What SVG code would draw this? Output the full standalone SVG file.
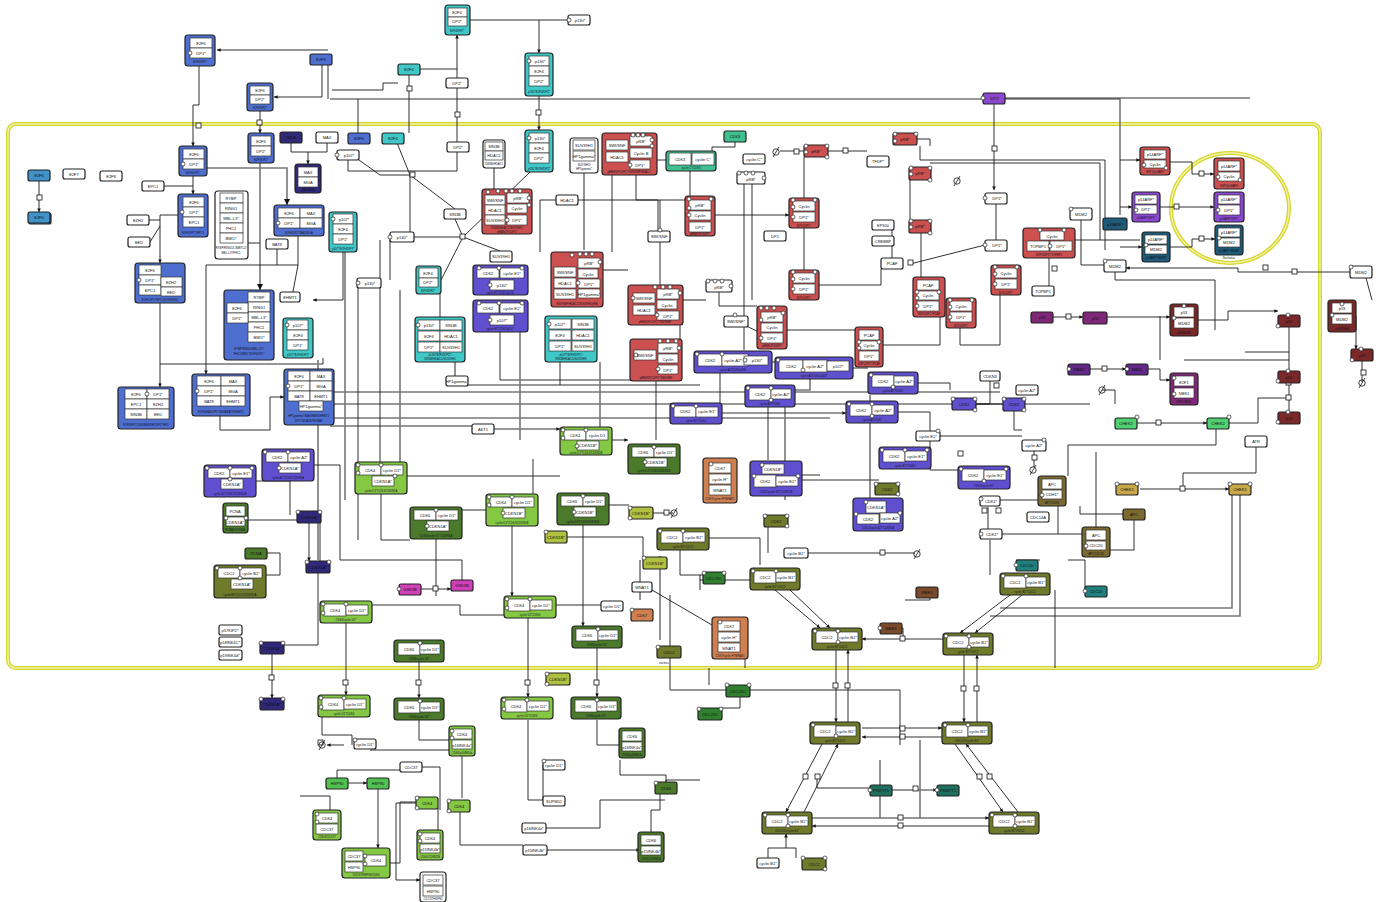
<svg xmlns="http://www.w3.org/2000/svg" width="1383" height="902" viewBox="0 0 1383 902">
<defs>
<style>
.n{stroke:#222;stroke-width:1.2}
.i{fill:#fff;stroke:#333;stroke-width:.7}
.w{fill:#fff}
text{font-family:"Liberation Sans",Arial,sans-serif;font-size:4px;text-anchor:middle;fill:#111}
.cl{font-size:2.8px;fill:#112}
.s{fill:#fff;stroke:#222;stroke-width:.7}
.e{fill:none;stroke:#1a1a1a;stroke-width:.9}
.g{fill:none;stroke:#777;stroke-width:1.6}
.bl{fill:#4f6fd0}.sb{fill:#4092c8}.cy{fill:#40c8c8}.rd{fill:#cc5050}.pb{fill:#6050d0}
.lg{fill:#84c844}.dg{fill:#4a7a2a}.ol{fill:#6f7a2a}.or{fill:#d08050}.nv{fill:#302878}
.mr{fill:#7a2828}.pu{fill:#8a48d0}.tl{fill:#1f5a78}.mg{fill:#d040b8}.c2{fill:#50d070}
.c1{fill:#c8a848}.br{fill:#7a6a30}.gr{fill:#40c090}.yg{fill:#b0c040}.wb{fill:#7a4a2a}
.cd{fill:#308030}.cc{fill:#208080}.pk{fill:#207060}.dp{fill:#602888}.p5{fill:#802878}.hg{fill:#50c050}
.comp{fill:none;stroke:#d6d628;stroke-width:4}
.comp2{fill:none;stroke:#f2f2b0;stroke-width:1.4}
</style>
<marker id="a" viewBox="0 0 6 6" refX="6" refY="3" markerWidth="4" markerHeight="4" orient="auto"><path d="M0,0L6,3L0,6z" fill="#111"/></marker>
</defs>
<rect width="1383" height="902" fill="#fff"/>
<g id="compartment">
<rect class="comp" x="8" y="124" width="1312" height="544" rx="8"/>
<rect class="comp2" x="8" y="124" width="1312" height="544" rx="8"/>
<ellipse class="comp" cx="1230" cy="208" rx="59" ry="55"/>
<ellipse class="comp2" cx="1230" cy="208" rx="59" ry="55"/>
<text class="cl" x="664" y="664">nucleus</text>
<text class="cl" x="1229" y="259">Nucleolus</text>
</g>
<g id="connectors">
<path class="g" d="M330,99H1120V215"/>
<path class="e" d="M199,66V105H193V146" marker-end="url(#a)"/>
<path class="e" d="M328,50H217" marker-end="url(#a)"/>
<path class="e" d="M322,65V97H274" marker-end="url(#a)"/>
<path class="e" d="M328,65V99"/>
<path class="e" d="M260,111V133" marker-end="url(#a)"/>
<path class="e" d="M457,78V35" marker-end="url(#a)"/>
<path class="e" d="M420,69H457"/>
<path class="e" d="M470,20H568"/>
<path class="e" d="M539,20V53" marker-end="url(#a)"/>
<path class="e" d="M539,96V130" marker-end="url(#a)"/>
<path class="e" d="M409,133V75"/>
<path class="e" d="M393,133L410,175"/>
<path class="e" d="M332,90H383V83H398"/>
<path class="e" d="M457,142V88"/>
<path class="e" d="M358,133V99"/>
<path class="e" d="M348,160V171H457V152"/>
<path class="e" d="M994,104V190" marker-end="url(#a)"/>
<path class="e" d="M1005,98H1250"/>
<path class="e" d="M39,181V212" marker-end="url(#a)"/>
<path class="e" d="M164,186H193"/>
<path class="e" d="M193,176V194" marker-end="url(#a)"/>
<path class="e" d="M149,220H160"/>
<path class="e" d="M150,242L160,226"/>
<path class="e" d="M178,215H160V263" marker-end="url(#a)"/>
<path class="g" d="M207,168H287V205" marker-end="url(#a)"/>
<path class="e" d="M291,143V152H327V143"/>
<path class="e" d="M308,152V164" marker-end="url(#a)"/>
<path class="g" d="M260,163V290" marker-end="url(#a)"/>
<path class="e" d="M248,243H260"/>
<path class="e" d="M277,249V265"/>
<path class="e" d="M206,265H298V236"/>
<path class="e" d="M291,302L298,265"/>
<path class="e" d="M206,265V374" marker-end="url(#a)"/>
<path class="e" d="M160,303V387" marker-end="url(#a)"/>
<path class="e" d="M160,364H323V358"/>
<path class="e" d="M220,416V430H270V397H284" marker-end="url(#a)"/>
<path class="e" d="M343,252V300H313" marker-end="url(#a)"/>
<path class="e" d="M359,160L380,175H410V232"/>
<path class="e" d="M410,175L455,209"/>
<path class="e" d="M455,219L463,237L390,237"/>
<path class="e" d="M463,237L500,251"/>
<path class="e" d="M463,237L530,172"/>
<path class="e" d="M463,237L441,280"/>
<path class="e" d="M390,240V280"/>
<path class="g" d="M494,168V189"/>
<path class="g" d="M584,173V250"/>
<path class="e" d="M556,200H540V252"/>
<path class="e" d="M578,200H660V290"/>
<path class="e" d="M612,175V252"/>
<path class="e" d="M636,175V200H658V232"/>
<path class="e" d="M660,200H685"/>
<path class="e" d="M657,160H690V196"/>
<path class="e" d="M715,215H789" marker-end="url(#a)"/>
<path class="e" d="M804,198V157"/>
<path class="e" d="M828,151H867"/>
<path class="e" d="M804,228V270"/>
<path class="e" d="M819,285H881V269"/>
<path class="e" d="M892,258V228H872"/>
<path class="e" d="M910,180V220"/>
<path class="e" d="M920,146V160H1105V250"/>
<path class="e" d="M917,139H930V146"/>
<path class="e" d="M930,163H1100V240"/>
<path class="e" d="M996,204V240"/>
<path class="e" d="M921,233V277"/>
<path class="e" d="M910,264L985,245"/>
<path class="e" d="M809,151H780"/>
<path class="e" d="M735,141V147H712V160"/>
<path class="e" d="M752,183V300"/>
<path class="e" d="M744,183V350"/>
<path class="g" d="M603,270H628"/>
<path class="g" d="M683,300H706"/>
<path class="e" d="M719,292V306H757"/>
<path class="e" d="M736,321L765,335"/>
<path class="e" d="M787,330H855"/>
<path class="e" d="M883,345H940V317"/>
<path class="e" d="M960,328V345H1000V295"/>
<path class="e" d="M1049,258V286"/>
<path class="e" d="M1075,240H1140"/>
<path class="e" d="M1120,160H1140" marker-end="url(#a)"/>
<path class="e" d="M1120,207H1132" marker-end="url(#a)"/>
<path class="e" d="M1120,247H1142" marker-end="url(#a)"/>
<path class="e" d="M1170,162H1192V174H1214" marker-end="url(#a)"/>
<path class="e" d="M1160,207H1214" marker-end="url(#a)"/>
<path class="e" d="M1170,247H1192V239H1215" marker-end="url(#a)"/>
<path class="e" d="M1081,220V265H1104"/>
<path class="e" d="M1350,272H1238V268H1126" marker-end="url(#a)"/>
<path class="e" d="M1115,272V280H1215V330"/>
<path class="e" d="M1366,278L1372,300"/>
<path class="g" d="M290,392H1000"/>
<path class="e" d="M325,404H1090"/>
<path class="g" d="M300,418H830"/>
<path class="e" d="M330,426H472"/>
<path class="e" d="M494,429H560" marker-end="url(#a)"/>
<path class="g" d="M345,250V500"/>
<path class="e" d="M358,283V540"/>
<path class="g" d="M318,360V560"/>
<path class="e" d="M380,240V465"/>
<path class="g" d="M400,290V470"/>
<path class="e" d="M440,294V340"/>
<path class="g" d="M455,360V385H700"/>
<path class="e" d="M500,332V380H680"/>
<path class="g" d="M520,332V440"/>
<path class="e" d="M560,362V385"/>
<path class="g" d="M600,362V445"/>
<path class="e" d="M656,381V440"/>
<path class="g" d="M680,325V350"/>
<path class="e" d="M720,373V403"/>
<path class="e" d="M772,362H775"/>
<path class="g" d="M810,379V390H795"/>
<path class="e" d="M853,368H868"/>
<path class="e" d="M918,383H950V390"/>
<path class="e" d="M768,407V460"/>
<path class="g" d="M785,407V500"/>
<path class="e" d="M722,413H846" marker-end="url(#a)"/>
<path class="e" d="M898,412H930V470H958"/>
<path class="e" d="M990,381V404H976"/>
<path class="e" d="M976,404H1003"/>
<path class="e" d="M1014,411V430H1022"/>
<path class="e" d="M940,436H1022"/>
<path class="e" d="M1034,451V467"/>
<path class="e" d="M905,458H879"/>
<path class="g" d="M870,395V505"/>
<path class="e" d="M820,475H750"/>
<path class="e" d="M802,480H879"/>
<path class="e" d="M880,520H903"/>
<path class="e" d="M988,507V529"/>
<path class="e" d="M1000,500H1038"/>
<path class="e" d="M1002,534H1082"/>
<path class="e" d="M990,540V575"/>
<path class="g" d="M700,590V575"/>
<path class="e" d="M1053,317H1083" marker-end="url(#a)"/>
<path class="e" d="M1107,317H1170" marker-end="url(#a)"/>
<path class="e" d="M1090,369H1126" marker-end="url(#a)"/>
<path class="e" d="M1148,369H1160V380H1170" marker-end="url(#a)"/>
<path class="e" d="M1160,360V316"/>
<path class="e" d="M1115,404V390H1102"/>
<path class="e" d="M1137,423H1207" marker-end="url(#a)"/>
<path class="e" d="M1229,423H1258V398H1289"/>
<path class="e" d="M1198,320H1228V311H1278" marker-end="url(#a)"/>
<path class="e" d="M1289,327V412"/>
<path class="e" d="M1184,360H1289"/>
<path class="e" d="M1245,352H1289"/>
<path class="e" d="M1356,316V349" marker-end="url(#a)"/>
<path class="e" d="M1362,361V382"/>
<path class="e" d="M1140,489H1229" marker-end="url(#a)"/>
<path class="e" d="M1256,447V473H1183V489"/>
<path class="e" d="M1216,429V445H1068V476"/>
<path class="e" d="M1134,520V550H1096V557"/>
<path class="e" d="M1123,514H1080V506"/>
<path class="e" d="M1096,527V452"/>
<path class="e" d="M1058,506V534"/>
<path class="e" d="M1068,560H1085V591"/>
<path class="g" d="M1232,495V608H1000"/>
<path class="g" d="M1240,495V616H990"/>
<path class="e" d="M1040,560H1016"/>
<path class="e" d="M1055,590V668"/>
<path class="e" d="M407,476H560"/>
<path class="e" d="M612,440H628" marker-end="url(#a)"/>
<path class="e" d="M533,459V512H486"/>
<path class="e" d="M381,494V540H410"/>
<path class="e" d="M462,510H486"/>
<path class="e" d="M436,539V596"/>
<path class="e" d="M512,526V596" marker-end="url(#a)"/>
<path class="e" d="M583,525V626" marker-end="url(#a)"/>
<path class="e" d="M609,505H629"/>
<path class="e" d="M653,513H673"/>
<path class="e" d="M567,537H643V557"/>
<path class="e" d="M314,465H340V560"/>
<path class="e" d="M256,481H290V515"/>
<path class="e" d="M248,520H320V570"/>
<path class="e" d="M267,553H280V575H266"/>
<path class="e" d="M309,523V561" marker-end="url(#a)"/>
<path class="e" d="M318,567V645H284"/>
<path class="e" d="M272,654V698" marker-end="url(#a)"/>
<path class="e" d="M421,589H451" marker-end="url(#a)"/>
<path class="e" d="M462,580V560H340"/>
<path class="e" d="M346,623V695" marker-end="url(#a)"/>
<path class="e" d="M419,662V698" marker-end="url(#a)"/>
<path class="e" d="M528,618V697" marker-end="url(#a)"/>
<path class="e" d="M597,648V697" marker-end="url(#a)"/>
<path class="e" d="M372,605H460V615H504"/>
<path class="e" d="M556,605H601"/>
<path class="g" d="M640,560V600"/>
<path class="g" d="M660,556V640"/>
<path class="e" d="M709,538H760V565"/>
<path class="e" d="M680,550V575H703"/>
<path class="e" d="M652,590L712,625"/>
<path class="e" d="M670,595V690H726"/>
<path class="e" d="M750,580H700"/>
<path class="e" d="M808,553H915"/>
<path class="e" d="M768,527V553"/>
<path class="e" d="M750,690H900V745"/>
<path class="e" d="M740,696V708H722"/>
<path class="e" d="M709,685V668"/>
<path class="e" d="M745,640V668"/>
<path class="e" d="M775,590L820,628" marker-end="url(#a)"/>
<path class="e" d="M790,590L830,628" marker-end="url(#a)"/>
<path class="e" d="M1010,595L960,633" marker-end="url(#a)"/>
<path class="e" d="M1022,595L975,633" marker-end="url(#a)"/>
<path class="e" d="M943,639H862" marker-end="url(#a)"/>
<path class="e" d="M903,639V628H902"/>
<path class="e" d="M905,600H930V587"/>
<path class="e" d="M836,650V722" marker-end="url(#a)"/>
<path class="e" d="M848,722V650" marker-end="url(#a)"/>
<path class="e" d="M964,655V722" marker-end="url(#a)"/>
<path class="e" d="M977,722V655" marker-end="url(#a)"/>
<path class="e" d="M862,728H942" marker-end="url(#a)"/>
<path class="e" d="M942,737H862" marker-end="url(#a)"/>
<path class="e" d="M822,744L786,812" marker-end="url(#a)"/>
<path class="e" d="M804,812L838,744" marker-end="url(#a)"/>
<path class="e" d="M955,744L1003,812" marker-end="url(#a)"/>
<path class="e" d="M1018,812L966,744" marker-end="url(#a)"/>
<path class="e" d="M812,818H989" marker-end="url(#a)"/>
<path class="e" d="M989,826H812" marker-end="url(#a)"/>
<path class="e" d="M870,788H817V777"/>
<path class="e" d="M892,790H937" marker-end="url(#a)"/>
<path class="g" d="M880,760V818"/>
<path class="g" d="M920,740V818"/>
<path class="e" d="M768,858V848H796V858"/>
<path class="e" d="M786,848V834" marker-end="url(#a)"/>
<path class="e" d="M322,717V735H352V745"/>
<path class="e" d="M344,745H327" marker-end="url(#a)"/>
<path class="e" d="M370,750H450V742"/>
<path class="e" d="M419,720V740H450"/>
<path class="e" d="M462,756V798"/>
<path class="e" d="M528,720V800H543"/>
<path class="e" d="M543,765V800"/>
<path class="e" d="M597,720V745H620"/>
<path class="e" d="M620,760V775H666V782"/>
<path class="e" d="M422,767H440V810"/>
<path class="e" d="M337,778V770H400"/>
<path class="e" d="M348,783H367" marker-end="url(#a)"/>
<path class="e" d="M378,789V848" marker-end="url(#a)"/>
<path class="e" d="M390,863H400V802H416"/>
<path class="e" d="M416,803H396V880H420" marker-end="url(#a)"/>
<path class="e" d="M438,808V830"/>
<path class="e" d="M460,812V845H523"/>
<path class="e" d="M546,850H640" marker-end="url(#a)"/>
<path class="e" d="M546,828H600V800H665"/>
<path class="e" d="M666,794V780H700"/>
<path class="e" d="M651,832V810H660V794"/>
<path class="e" d="M330,810V796H300"/>
</g>
<g id="process-nodes" fill="#fff" stroke="#111" stroke-width=".8">
<rect x="196" y="123" width="5" height="5"/><rect x="257" y="120" width="5" height="5"/><rect x="536" y="110" width="5" height="5"/><rect x="455" y="112" width="5" height="5"/><rect x="407" y="86" width="5" height="5"/><rect x="37" y="195" width="5" height="5"/><rect x="992" y="146" width="5" height="5"/><rect x="1199" y="171" width="5" height="5"/><rect x="1174" y="204" width="5" height="5"/><rect x="1199" y="236" width="5" height="5"/><rect x="1292" y="269" width="5" height="5"/><rect x="1066" y="314" width="5" height="5"/><rect x="1102" y="366" width="5" height="5"/><rect x="1156" y="420" width="5" height="5"/><rect x="1180" y="486" width="5" height="5"/><rect x="843" y="148" width="5" height="5"/><rect x="794" y="149" width="5" height="5"/><rect x="908" y="260" width="5" height="5"/><rect x="433" y="586" width="5" height="5"/><rect x="416" y="680" width="5" height="5"/><rect x="343" y="680" width="5" height="5"/><rect x="525" y="680" width="5" height="5"/><rect x="594" y="680" width="5" height="5"/><rect x="269" y="675" width="5" height="5"/><rect x="833" y="683" width="5" height="5"/><rect x="845" y="683" width="5" height="5"/><rect x="961" y="686" width="5" height="5"/><rect x="974" y="686" width="5" height="5"/><rect x="900" y="636" width="5" height="5"/><rect x="900" y="726" width="5" height="5"/><rect x="900" y="734" width="5" height="5"/><rect x="803" y="774" width="5" height="5"/><rect x="815" y="774" width="5" height="5"/><rect x="977" y="774" width="5" height="5"/><rect x="987" y="774" width="5" height="5"/><rect x="898" y="815" width="5" height="5"/><rect x="898" y="823" width="5" height="5"/><rect x="913" y="786" width="5" height="5"/><rect x="531" y="510" width="5" height="5"/><rect x="318" y="740" width="5" height="5"/><rect x="664" y="510" width="5" height="5"/><rect x="1052" y="266" width="5" height="5"/><rect x="1361" y="370" width="5" height="5"/><rect x="1263" y="265" width="5" height="5"/><rect x="1286" y="380" width="5" height="5"/><rect x="1286" y="395" width="5" height="5"/><rect x="958" y="451" width="5" height="5"/><rect x="1032" y="455" width="5" height="5"/><rect x="994" y="383" width="5" height="5"/><rect x="958" y="402" width="5" height="5"/><rect x="982" y="508" width="5" height="5"/><rect x="996" y="508" width="5" height="5"/><rect x="880" y="550" width="5" height="5"/><rect x="410" y="172" width="5" height="5"/><rect x="460" y="234" width="5" height="5"/>
</g>
<g id="emptysets" fill="none" stroke="#111" stroke-width=".8">
<circle cx="776" cy="152" r="3.2"/><path d="M773,157L779,147"/>
<circle cx="957" cy="181" r="3.2"/><path d="M954,186L960,176"/>
<circle cx="1102" cy="390" r="3.2"/><path d="M1099,395L1105,385"/>
<circle cx="1362" cy="383" r="3.2"/><path d="M1359,388L1365,378"/>
<circle cx="1033" cy="470" r="3.2"/><path d="M1030,475L1036,465"/>
<circle cx="917" cy="554" r="3.2"/><path d="M914,559L920,549"/>
<circle cx="674" cy="513" r="3.2"/><path d="M671,518L677,508"/>
<circle cx="322" cy="745" r="3.2"/><path d="M319,750L325,740"/>
</g>
<g id="n1"><rect class="n bl" x="185" y="35" width="30" height="31" rx="3"/><rect class="i" x="190" y="38" width="22" height="10"/><rect class="i" x="190" y="48" width="22" height="10"/><circle class="s" cx="190" cy="53" r="2"/><text x="201" y="45">E2F6</text><text x="201" y="55">DP1*</text><text class="cl" x="200" y="63">E2F6/DP1*</text></g>
<g id="n2"><rect class="n bl" x="310" y="54" width="22" height="11" rx="2"/><text x="321" y="61">E2F6</text></g>
<g id="n3"><rect class="n bl" x="247" y="83" width="26" height="28" rx="3"/><rect class="i" x="250" y="86" width="20" height="9"/><rect class="i" x="250" y="95" width="20" height="9"/><text x="260" y="92">E2F6</text><text x="260" y="101">DP2*</text><text class="cl" x="260" y="109">E2F6/DP2*</text></g>
<g id="n4"><rect class="n cy" x="398" y="64" width="22" height="11" rx="2"/><text x="409" y="71">E2F4</text></g>
<g id="n5"><rect class="n cy" x="445" y="5" width="25" height="30" rx="3"/><rect class="i" x="448" y="8" width="19" height="9"/><rect class="i" x="448" y="17" width="19" height="9"/><text x="457" y="14">E2F4</text><text x="457" y="23">DP2*</text><text class="cl" x="457" y="32">E2F4/DP2*</text></g>
<g id="n6"><rect class="n w" x="568" y="15" width="22" height="10" rx="2"/><circle class="s" cx="569" cy="20" r="2"/><text x="580" y="22">p130*</text></g>
<g id="n7"><rect class="n cy" x="525" y="53" width="28" height="43" rx="3"/><rect class="i" x="529" y="56" width="20" height="10"/><rect class="i" x="529" y="66" width="20" height="10"/><rect class="i" x="529" y="76" width="20" height="10"/><circle class="s" cx="529" cy="61" r="2"/><text x="540" y="63">p130*</text><text x="539" y="73">E2F4</text><text x="539" y="83">DP2*</text><text class="cl" x="539" y="93">p130*/E2F4/DP2*</text></g>
<g id="n8"><rect class="n w" x="446" y="78" width="22" height="10" rx="2"/><text x="457" y="85">DP2*</text></g>
<g id="n9"><rect class="n pu" x="983" y="93" width="22" height="11" rx="2"/><circle class="s" cx="983" cy="98" r="2"/><text x="995" y="100">DP1*</text></g>
<g id="n10"><rect class="n sb" x="28" y="170" width="22" height="11" rx="2"/><text x="39" y="177">E2F6</text></g>
<g id="n11"><rect class="n sb" x="29" y="213" width="22" height="11" rx="2"/><rect class="n sb" x="28" y="212" width="22" height="11" rx="2"/><text x="39" y="219">E2F6</text></g>
<g id="n12"><rect class="n w" x="63" y="169" width="22" height="10" rx="2"/><text x="74" y="176">E2F7</text></g>
<g id="n13"><rect class="n w" x="100" y="171" width="22" height="10" rx="2"/><text x="111" y="178">E2F8</text></g>
<g id="n14"><rect class="n bl" x="179" y="146" width="28" height="30" rx="3"/><rect class="i" x="183" y="149" width="21" height="10"/><rect class="i" x="183" y="159" width="21" height="10"/><circle class="s" cx="183" cy="164" r="2"/><text x="194" y="156">E2F6</text><text x="194" y="166">DP1*</text><text class="cl" x="193" y="174">E2F6/DP1*</text></g>
<g id="n15"><rect class="n bl" x="248" y="133" width="26" height="30" rx="3"/><rect class="i" x="251" y="136" width="20" height="10"/><rect class="i" x="251" y="146" width="20" height="10"/><text x="261" y="143">E2F6</text><text x="261" y="153">DP2*</text><text class="cl" x="261" y="161">E2F6/DP2*</text></g>
<g id="n16"><rect class="n nv" x="280" y="132" width="22" height="11" rx="2"/><text x="291" y="139" fill="#ccd">MGA</text></g>
<g id="n17"><rect class="n w" x="316" y="132" width="22" height="11" rx="2"/><text x="327" y="139">MAX</text></g>
<g id="n18"><rect class="n nv" x="295" y="164" width="26" height="29" rx="3"/><rect class="i" x="298" y="167" width="20" height="10"/><rect class="i" x="298" y="177" width="20" height="10"/><text x="308" y="174">MAX</text><text x="308" y="184">MGA</text><text class="cl" x="308" y="191" fill="#ccd">MAX/MGA</text></g>
<g id="n19"><rect class="n w" x="142" y="181" width="22" height="10" rx="2"/><text x="153" y="188">EPC1</text></g>
<g id="n20"><rect class="n bl" x="178" y="194" width="30" height="43" rx="3"/><rect class="i" x="183" y="197" width="21" height="10"/><rect class="i" x="183" y="207" width="21" height="10"/><rect class="i" x="183" y="217" width="21" height="10"/><circle class="s" cx="182" cy="212" r="2"/><text x="194" y="204">E2F6</text><text x="194" y="214">DP1*</text><text x="194" y="224">EPC1</text><text class="cl" x="193" y="234">E2F6/DP1*/EPC1</text></g>
<g id="n21"><rect class="n w" x="127" y="215" width="22" height="10" rx="2"/><text x="138" y="222">EZH2</text></g>
<g id="n22"><rect class="n w" x="128" y="237" width="22" height="10" rx="2"/><text x="139" y="244">EED</text></g>
<g id="n23"><rect class="n w" x="215" y="191" width="33" height="68" rx="3"/><rect class="i" x="220" y="193" width="23" height="10"/><rect class="i" x="220" y="203" width="23" height="10"/><rect class="i" x="220" y="213" width="23" height="10"/><rect class="i" x="220" y="223" width="23" height="10"/><rect class="i" x="220" y="233" width="23" height="10"/><text x="231" y="200">RYBP</text><text x="231" y="210">RING1</text><text x="231" y="220">MBL-L3*</text><text x="231" y="230">PHC1</text><text x="231" y="240">BMI1*</text><text class="cl" x="231" y="249">RYBP/RING1/L3MBTL2/</text><text class="cl" x="231" y="254">MBL-L3*/PHC1</text></g>
<g id="n24"><rect class="n w" x="266" y="239" width="22" height="10" rx="2"/><text x="277" y="246">BAT8</text></g>
<g id="n25"><rect class="n bl" x="274" y="205" width="50" height="31" rx="3"/><rect class="i" x="278" y="208" width="22" height="10"/><rect class="i" x="300" y="208" width="22" height="10"/><rect class="i" x="278" y="218" width="22" height="10"/><rect class="i" x="300" y="218" width="22" height="10"/><circle class="s" cx="278" cy="223" r="2"/><text x="289" y="215">E2F6</text><text x="311" y="215">MAX</text><text x="289" y="225">DP1*</text><text x="311" y="225">MGA</text><text class="cl" x="299" y="234">E2F6/DP1*/MAX/MGA</text></g>
<g id="n26"><rect class="n cy" x="329" y="212" width="28" height="40" rx="3"/><rect class="i" x="333" y="214" width="20" height="10"/><rect class="i" x="333" y="224" width="20" height="10"/><rect class="i" x="333" y="234" width="20" height="10"/><circle class="s" cx="333" cy="219" r="2"/><text x="344" y="221">p107*</text><text x="343" y="231">E2F4</text><text x="343" y="241">DP1*</text><text class="cl" x="343" y="250">p107*/E2F4/DP1*</text></g>
<g id="n27"><rect class="n bl" x="135" y="263" width="50" height="40" rx="3"/><rect class="i" x="139" y="265" width="22" height="10"/><rect class="i" x="139" y="275" width="22" height="10"/><rect class="i" x="139" y="285" width="22" height="10"/><rect class="i" x="161" y="277" width="21" height="10"/><rect class="i" x="161" y="287" width="21" height="9"/><circle class="s" cx="139" cy="280" r="2"/><text x="150" y="272">E2F6</text><text x="150" y="282">DP1*</text><text x="150" y="292">EPC1</text><text x="171" y="284">EZH2</text><text x="171" y="294">EED</text><text class="cl" x="160" y="301">E2F6/DP1*/EPC1/EZH2/EED</text></g>
<g id="n28"><rect class="n bl" x="224" y="290" width="50" height="70" rx="3"/><rect class="i" x="248" y="292" width="22" height="10"/><rect class="i" x="248" y="302" width="22" height="10"/><rect class="i" x="248" y="312" width="22" height="10"/><rect class="i" x="248" y="322" width="22" height="10"/><rect class="i" x="248" y="332" width="22" height="10"/><rect class="i" x="227" y="303" width="21" height="10"/><rect class="i" x="227" y="313" width="21" height="10"/><text x="259" y="299">RYBP</text><text x="259" y="309">RING1</text><text x="259" y="319">MBL-L3*</text><text x="259" y="329">PHC1</text><text x="259" y="339">BMI1*</text><text x="237" y="310">E2F6</text><text x="237" y="320">DP1*</text><text class="cl" x="249" y="350">RYBP/RING1/MBL-L3*/</text><text class="cl" x="249" y="355">PHC1/BMI1*/E2F6/DP1*</text></g>
<g id="n29"><rect class="n w" x="280" y="292" width="20" height="10" rx="2"/><text x="290" y="299">EHMT1</text></g>
<g id="n30"><rect class="n cy" x="283" y="318" width="30" height="40" rx="3"/><rect class="i" x="287" y="320" width="21" height="10"/><rect class="i" x="287" y="330" width="21" height="10"/><rect class="i" x="287" y="340" width="21" height="10"/><circle class="s" cx="287" cy="325" r="2"/><text x="298" y="327">p107*</text><text x="298" y="337">E2F4</text><text x="298" y="347">DP1*</text><text class="cl" x="298" y="356">p107*/E2F4/DP1*</text></g>
<g id="n31"><rect class="n bl" x="118" y="387" width="56" height="42" rx="3"/><rect class="i" x="125" y="389" width="22" height="10"/><rect class="i" x="147" y="389" width="22" height="10"/><rect class="i" x="125" y="399" width="22" height="10"/><rect class="i" x="147" y="399" width="22" height="10"/><rect class="i" x="125" y="409" width="22" height="10"/><rect class="i" x="147" y="409" width="22" height="10"/><circle class="s" cx="147" cy="394" r="2"/><text x="136" y="396">E2F6</text><text x="158" y="396">DP1*</text><text x="136" y="406">EPC1</text><text x="158" y="406">EZH2</text><text x="136" y="416">SIN3B</text><text x="158" y="416">EED</text><text class="cl" x="146" y="426">E2F6/EPC1/SIN3B/EZH2/DP1*/EED</text></g>
<g id="n32"><rect class="n bl" x="192" y="374" width="58" height="42" rx="3"/><rect class="i" x="197" y="376" width="24" height="10"/><rect class="i" x="221" y="376" width="24" height="10"/><rect class="i" x="197" y="386" width="24" height="10"/><rect class="i" x="221" y="386" width="24" height="10"/><rect class="i" x="197" y="396" width="24" height="10"/><rect class="i" x="221" y="396" width="24" height="10"/><circle class="s" cx="197" cy="391" r="2"/><text x="209" y="383">E2F6</text><text x="233" y="383">MAX</text><text x="209" y="393">DP1*</text><text x="233" y="393">MGA</text><text x="209" y="403">BAT8</text><text x="233" y="403">EHMT1</text><text class="cl" x="221" y="413">E2F6/MAX/DP1*/MGA/BAT8/EHMT1</text></g>
<g id="n33"><rect class="n bl" x="284" y="369" width="50" height="56" rx="3"/><rect class="i" x="288" y="371" width="22" height="10"/><rect class="i" x="310" y="371" width="22" height="10"/><rect class="i" x="288" y="381" width="22" height="10"/><rect class="i" x="310" y="381" width="22" height="10"/><rect class="i" x="288" y="391" width="22" height="10"/><rect class="i" x="310" y="391" width="22" height="10"/><rect class="i" x="299" y="401" width="24" height="10"/><circle class="s" cx="288" cy="386" r="2"/><text x="299" y="378">E2F6</text><text x="321" y="378">MAX</text><text x="299" y="388">DP1*</text><text x="321" y="388">MGA</text><text x="299" y="398">BAT8</text><text x="321" y="398">EHMT1</text><text x="311" y="408">HP1gamma*</text><text class="cl" x="309" y="417">HP1gamma*/MAX/BAT8/EHMT1/</text><text class="cl" x="309" y="422">DP1*/MGA/E2F6/MAX</text></g>
<g id="n34"><rect class="n w" x="337" y="150" width="22" height="10" rx="2"/><circle class="s" cx="337" cy="155" r="2"/><text x="349" y="157">p107*</text></g>
<g id="n35"><rect class="n bl" x="348" y="133" width="22" height="11" rx="2"/><text x="359" y="140">E2F6</text></g>
<g id="n36"><rect class="n cy" x="382" y="133" width="22" height="11" rx="2"/><text x="393" y="140">E2F4</text></g>
<g id="n37"><rect class="n w" x="447" y="142" width="22" height="10" rx="2"/><text x="458" y="149">DP2*</text></g>
<g id="n38"><rect class="n w" x="483" y="140" width="22" height="28" rx="3"/><rect class="i" x="485" y="142" width="18" height="9"/><rect class="i" x="485" y="151" width="18" height="9"/><text x="494" y="148">SIN3B</text><text x="494" y="157">HDAC1</text><text class="cl" x="494" y="165">SIN3B/HDAC1</text></g>
<g id="n39"><rect class="n cy" x="525" y="130" width="28" height="42" rx="3"/><rect class="i" x="529" y="133" width="20" height="10"/><rect class="i" x="529" y="143" width="20" height="10"/><rect class="i" x="529" y="153" width="20" height="10"/><circle class="s" cx="529" cy="138" r="2"/><text x="540" y="140">p130*</text><text x="539" y="150">E2F4</text><text x="539" y="160">DP2*</text><text class="cl" x="539" y="170">p130*/E2F4/DP2*</text></g>
<g id="n40"><rect class="n w" x="570" y="138" width="28" height="35" rx="3"/><rect class="i" x="573" y="140" width="22" height="10"/><rect class="i" x="573" y="151" width="22" height="10"/><text x="584" y="147">SUV39H1</text><text x="584" y="158">HP1gamma*</text><text class="cl" x="584" y="166">SUV39H1/</text><text class="cl" x="584" y="170">HP1gamma*</text></g>
<g id="n41"><rect class="n rd" x="602" y="133" width="55" height="42" rx="3"/><rect class="i" x="606" y="140" width="22" height="10"/><rect class="i" x="606" y="152" width="22" height="10"/><rect class="i" x="630" y="136" width="22" height="10"/><rect class="i" x="630" y="148" width="22" height="10"/><rect class="i" x="630" y="160" width="20" height="9"/><circle class="s" cx="633" cy="135" r="2"/><circle class="s" cx="638" cy="135" r="2"/><circle class="s" cx="643" cy="135" r="2"/><circle class="s" cx="652" cy="140" r="2"/><circle class="s" cx="652" cy="146" r="2"/><circle class="s" cx="630" cy="165" r="2"/><text x="617" y="147">SWI/SNF</text><text x="617" y="159">HDAC1</text><text x="641" y="143">pRB*</text><text x="641" y="155">Cyclin B</text><text x="640" y="167">DP1*</text><text class="cl" x="629" y="173">pRB/E2F1/DP1*/SWI/SNF/HDAC1</text></g>
<g id="n42"><rect class="n gr" x="666" y="151" width="50" height="20" rx="3"/><rect class="i" x="669" y="153" width="22" height="12"/><rect class="i" x="692" y="153" width="22" height="12"/><text x="680" y="161">CDK3</text><text x="703" y="161">cyclin C*</text><text class="cl" x="691" y="169">cyclin C*/CDK3</text></g>
<g id="n43"><rect class="n gr" x="724" y="131" width="22" height="11" rx="2"/><text x="735" y="138">CDK3</text></g>
<g id="n44"><rect class="n w" x="743" y="154" width="22" height="10" rx="2"/><text x="754" y="161">cyclin C*</text></g>
<g id="n45"><rect class="n rd" x="804" y="145" width="24" height="12" rx="2"/><circle class="s" cx="806" cy="146" r="2"/><circle class="s" cx="827" cy="146" r="2"/><circle class="s" cx="806" cy="152" r="2"/><circle class="s" cx="827" cy="157" r="2"/><text x="816" y="153">pRB*</text></g>
<g id="n46"><rect class="n rd" x="893" y="133" width="24" height="12" rx="2"/><circle class="s" cx="895" cy="134" r="2"/><circle class="s" cx="916" cy="134" r="2"/><circle class="s" cx="895" cy="141" r="2"/><text x="905" y="141">pRB*</text></g>
<g id="n47"><rect class="n w" x="867" y="156" width="22" height="11" rx="2"/><text x="878" y="163">TFDP*</text></g>
<g id="n48"><rect class="n rd" x="909" y="167" width="22" height="13" rx="2"/><circle class="s" cx="911" cy="168" r="2"/><circle class="s" cx="930" cy="168" r="2"/><circle class="s" cx="911" cy="174" r="2"/><circle class="s" cx="930" cy="180" r="2"/><text x="920" y="175">pRB*</text></g>
<g id="n49"><rect class="n w" x="985" y="193" width="22" height="11" rx="2"/><circle class="s" cx="985" cy="198" r="2"/><text x="997" y="200">DP1*</text></g>
<g id="n50"><rect class="n w" x="985" y="240" width="22" height="11" rx="2"/><circle class="s" cx="985" cy="245" r="2"/><text x="997" y="247">DP1*</text></g>
<g id="n51"><rect class="n rd" x="909" y="220" width="22" height="13" rx="2"/><circle class="s" cx="911" cy="221" r="2"/><circle class="s" cx="930" cy="221" r="2"/><circle class="s" cx="911" cy="227" r="2"/><circle class="s" cx="930" cy="233" r="2"/><text x="920" y="228">pRB*</text></g>
<g id="n52"><rect class="n w" x="444" y="209" width="22" height="10" rx="2"/><text x="455" y="216">SIN3B</text></g>
<g id="n53"><rect class="n w" x="390" y="232" width="24" height="10" rx="2"/><circle class="s" cx="390" cy="237" r="2"/><text x="402" y="239">p130*</text></g>
<g id="n54"><rect class="n rd" x="482" y="189" width="50" height="45" rx="3"/><rect class="i" x="485" y="195" width="20" height="10"/><rect class="i" x="485" y="205" width="20" height="10"/><rect class="i" x="485" y="215" width="20" height="10"/><rect class="i" x="507" y="193" width="22" height="10"/><rect class="i" x="507" y="204" width="20" height="9"/><rect class="i" x="507" y="215" width="20" height="10"/><circle class="s" cx="488" cy="192" r="2"/><circle class="s" cx="498" cy="191" r="2"/><circle class="s" cx="506" cy="191" r="2"/><circle class="s" cx="512" cy="191" r="2"/><circle class="s" cx="520" cy="191" r="2"/><circle class="s" cx="529" cy="198" r="2"/><circle class="s" cx="529" cy="205" r="2"/><circle class="s" cx="507" cy="220" r="2"/><text x="495" y="202">SWI/SNF</text><text x="495" y="212">HDAC1</text><text x="495" y="222">SUV39H1</text><text x="518" y="200">pRB*</text><text x="517" y="210">Cyclin</text><text x="517" y="222">DP1*</text><text class="cl" x="507" y="229">SIN3B/HDAC1/SUV39H1/</text><text class="cl" x="507" y="233">pRB/E2F1/DP1*</text></g>
<g id="n55"><rect class="n w" x="556" y="195" width="22" height="10" rx="2"/><text x="567" y="202">HDAC1</text></g>
<g id="n56"><rect class="n w" x="648" y="231" width="22" height="11" rx="2"/><circle class="s" cx="660" cy="230" r="2"/><text x="659" y="238">SWI/SNF</text></g>
<g id="n57"><rect class="n w" x="490" y="251" width="22" height="11" rx="2"/><text x="501" y="258">SUV39H1</text></g>
<g id="n58"><rect class="n rd" x="685" y="196" width="30" height="40" rx="3"/><rect class="i" x="689" y="200" width="22" height="10"/><rect class="i" x="689" y="211" width="22" height="9"/><rect class="i" x="689" y="222" width="22" height="10"/><circle class="s" cx="689" cy="199" r="2"/><circle class="s" cx="711" cy="199" r="2"/><circle class="s" cx="689" cy="208" r="2"/><circle class="s" cx="689" cy="215" r="2"/><text x="700" y="207">pRB*</text><text x="700" y="217">Cyclin</text><text x="700" y="229">DP1*</text><text class="cl" x="700" y="235">pRB/E2F1/DP1*</text></g>
<g id="n59"><rect class="n rd" x="789" y="198" width="30" height="30" rx="3"/><rect class="i" x="793" y="201" width="22" height="10"/><rect class="i" x="793" y="212" width="22" height="10"/><circle class="s" cx="793" cy="200" r="2"/><circle class="s" cx="815" cy="200" r="2"/><circle class="s" cx="793" cy="207" r="2"/><circle class="s" cx="793" cy="217" r="2"/><text x="804" y="208">Cyclin</text><text x="804" y="219">DP1*</text><text class="cl" x="804" y="227">E2F1/DP1*</text></g>
<g id="n60"><rect class="n w" x="737" y="172" width="28" height="12" rx="2"/><circle class="s" cx="739" cy="173" r="2"/><circle class="s" cx="746" cy="173" r="2"/><circle class="s" cx="753" cy="173" r="2"/><circle class="s" cx="764" cy="178" r="2"/><text x="751" y="181">pRB*</text></g>
<g id="n61"><rect class="n w" x="764" y="231" width="22" height="10" rx="2"/><text x="775" y="238">DP1</text></g>
<g id="n62"><rect class="n w" x="872" y="220" width="22" height="10" rx="2"/><text x="883" y="227">EP300</text></g>
<g id="n63"><rect class="n w" x="872" y="236" width="22" height="10" rx="2"/><text x="883" y="243">CREBBP</text></g>
<g id="n64"><rect class="n w" x="881" y="258" width="22" height="11" rx="2"/><text x="892" y="265">PCAF</text></g>
<g id="n65"><rect class="n pb" x="473" y="265" width="55" height="30" rx="3"/><rect class="i" x="477" y="268" width="22" height="10"/><rect class="i" x="500" y="268" width="24" height="10"/><rect class="i" x="490" y="280" width="24" height="10"/><circle class="s" cx="479" cy="268" r="2"/><circle class="s" cx="499" cy="268" r="2"/><circle class="s" cx="522" cy="268" r="2"/><circle class="s" cx="490" cy="285" r="2"/><text x="488" y="275">CDK2</text><text x="512" y="275">cyclin E1*</text><text x="502" y="287">p130*</text><text class="cl" x="500" y="294">cyclin E1*/CDK2/p130</text></g>
<g id="n66"><rect class="n cy" x="416" y="266" width="25" height="28" rx="3"/><rect class="i" x="419" y="268" width="19" height="10"/><rect class="i" x="419" y="278" width="19" height="9"/><text x="428" y="275">E2F4</text><text x="428" y="284">DP2*</text><text class="cl" x="428" y="292">E2F4/DP2*</text></g>
<g id="n67"><rect class="n w" x="357" y="278" width="24" height="10" rx="2"/><circle class="s" cx="358" cy="283" r="2"/><text x="370" y="285">p130*</text></g>
<g id="n68"><rect class="n rd" x="551" y="252" width="52" height="55" rx="3"/><rect class="i" x="554" y="267" width="22" height="10"/><rect class="i" x="554" y="278" width="22" height="10"/><rect class="i" x="554" y="289" width="22" height="10"/><rect class="i" x="578" y="258" width="22" height="10"/><rect class="i" x="578" y="269" width="20" height="9"/><rect class="i" x="578" y="279" width="22" height="9"/><rect class="i" x="578" y="289" width="22" height="9"/><circle class="s" cx="572" cy="255" r="2"/><circle class="s" cx="580" cy="254" r="2"/><circle class="s" cx="586" cy="254" r="2"/><circle class="s" cx="592" cy="254" r="2"/><circle class="s" cx="600" cy="262" r="2"/><circle class="s" cx="578" cy="283" r="2"/><text x="565" y="274">SWI/SNF</text><text x="565" y="285">HDAC1</text><text x="565" y="296">SUV39H1</text><text x="589" y="265">pRB*</text><text x="588" y="276">Cyclin</text><text x="589" y="286">DP1*</text><text x="589" y="296">HP1gamma*</text><text class="cl" x="577" y="305">SWI/SNF/HDAC1/SUV39H1/pRB</text></g>
<g id="n69"><rect class="n rd" x="628" y="285" width="55" height="40" rx="3"/><rect class="i" x="633" y="293" width="22" height="10"/><rect class="i" x="633" y="305" width="22" height="10"/><rect class="i" x="657" y="289" width="22" height="10"/><rect class="i" x="657" y="300" width="20" height="9"/><rect class="i" x="657" y="311" width="22" height="9"/><circle class="s" cx="655" cy="287" r="2"/><circle class="s" cx="663" cy="287" r="2"/><circle class="s" cx="670" cy="287" r="2"/><circle class="s" cx="680" cy="293" r="2"/><circle class="s" cx="657" cy="315" r="2"/><circle class="s" cx="633" cy="298" r="2"/><text x="644" y="300">SWI/SNF</text><text x="644" y="312">HDAC1</text><text x="668" y="296">pRB*</text><text x="667" y="307">Cyclin</text><text x="668" y="318">DP1*</text><text class="cl" x="655" y="323">pRB/E2F1/DP1*/SWI/SNF</text></g>
<g id="n70"><rect class="n w" x="706" y="280" width="26" height="12" rx="2"/><circle class="s" cx="708" cy="281" r="2"/><circle class="s" cx="715" cy="281" r="2"/><circle class="s" cx="722" cy="281" r="2"/><circle class="s" cx="731" cy="286" r="2"/><text x="719" y="289">pRB*</text></g>
<g id="n71"><rect class="n rd" x="789" y="270" width="30" height="30" rx="3"/><rect class="i" x="793" y="273" width="22" height="10"/><rect class="i" x="793" y="284" width="22" height="10"/><circle class="s" cx="793" cy="272" r="2"/><circle class="s" cx="815" cy="272" r="2"/><circle class="s" cx="793" cy="279" r="2"/><circle class="s" cx="793" cy="289" r="2"/><text x="804" y="280">Cyclin</text><text x="804" y="291">DP1*</text><text class="cl" x="804" y="299">E2F1/DP1*</text></g>
<g id="n72"><rect class="n pb" x="473" y="300" width="55" height="32" rx="3"/><rect class="i" x="477" y="303" width="22" height="10"/><rect class="i" x="500" y="303" width="24" height="10"/><rect class="i" x="490" y="315" width="24" height="10"/><circle class="s" cx="479" cy="303" r="2"/><circle class="s" cx="499" cy="303" r="2"/><circle class="s" cx="522" cy="303" r="2"/><circle class="s" cx="490" cy="320" r="2"/><text x="488" y="310">CDK2</text><text x="512" y="310">cyclin E1*</text><text x="502" y="322">p107*</text><text class="cl" x="500" y="330">cyclin E1*/CDK2/p107</text></g>
<g id="n73"><rect class="n cy" x="415" y="317" width="50" height="45" rx="3"/><rect class="i" x="418" y="320" width="22" height="10"/><rect class="i" x="440" y="320" width="22" height="10"/><rect class="i" x="418" y="331" width="22" height="10"/><rect class="i" x="440" y="331" width="22" height="10"/><rect class="i" x="418" y="342" width="22" height="10"/><rect class="i" x="440" y="342" width="22" height="10"/><circle class="s" cx="418" cy="325" r="2"/><text x="429" y="327">p130*</text><text x="451" y="327">SIN3B</text><text x="429" y="338">E2F4</text><text x="451" y="338">HDAC1</text><text x="429" y="349">DP2*</text><text x="451" y="349">SUV39H1</text><text class="cl" x="440" y="356">p130*/E2F4/DP2*/</text><text class="cl" x="440" y="360">SIN3B/HDAC1/SUV39H1</text></g>
<g id="n74"><rect class="n cy" x="545" y="316" width="52" height="46" rx="3"/><rect class="i" x="549" y="319" width="22" height="10"/><rect class="i" x="572" y="319" width="22" height="10"/><rect class="i" x="549" y="330" width="22" height="10"/><rect class="i" x="572" y="330" width="22" height="10"/><rect class="i" x="549" y="341" width="22" height="10"/><rect class="i" x="572" y="341" width="22" height="10"/><circle class="s" cx="549" cy="324" r="2"/><text x="560" y="326">p107*</text><text x="583" y="326">SIN3B</text><text x="560" y="337">E2F4</text><text x="583" y="337">HDAC1</text><text x="560" y="348">DP1*</text><text x="583" y="348">SUV39H1</text><text class="cl" x="571" y="356">p107*/E2F4/DP1*/</text><text class="cl" x="571" y="360">SIN3B/HDAC1/SUV39H1</text></g>
<g id="n75"><rect class="n rd" x="630" y="339" width="52" height="42" rx="3"/><rect class="i" x="634" y="350" width="22" height="10"/><rect class="i" x="658" y="343" width="20" height="10"/><rect class="i" x="658" y="354" width="20" height="9"/><rect class="i" x="658" y="365" width="20" height="9"/><circle class="s" cx="636" cy="355" r="2"/><circle class="s" cx="660" cy="341" r="2"/><circle class="s" cx="668" cy="341" r="2"/><circle class="s" cx="676" cy="341" r="2"/><circle class="s" cx="679" cy="348" r="2"/><circle class="s" cx="658" cy="369" r="2"/><text x="645" y="357">SWI/SNF</text><text x="668" y="350">pRB*</text><text x="668" y="361">Cyclin</text><text x="668" y="372">DP1*</text><text class="cl" x="656" y="379">pRB/E2F1/DP1*/SWI/SNF</text></g>
<g id="n76"><rect class="n w" x="724" y="316" width="24" height="11" rx="2"/><circle class="s" cx="735" cy="315" r="2"/><text x="736" y="323">SWI/SNF*</text></g>
<g id="n77"><rect class="n rd" x="757" y="306" width="30" height="43" rx="3"/><rect class="i" x="761" y="312" width="22" height="10"/><rect class="i" x="761" y="323" width="22" height="9"/><rect class="i" x="761" y="333" width="22" height="10"/><circle class="s" cx="761" cy="308" r="2"/><circle class="s" cx="767" cy="308" r="2"/><circle class="s" cx="774" cy="308" r="2"/><circle class="s" cx="783" cy="313" r="2"/><circle class="s" cx="761" cy="320" r="2"/><circle class="s" cx="761" cy="338" r="2"/><text x="772" y="319">pRB*</text><text x="772" y="329">Cyclin</text><text x="772" y="340">DP1*</text><text class="cl" x="772" y="347">pRB/E2F1/DP1*</text></g>
<g id="n78"><rect class="n rd" x="855" y="327" width="28" height="40" rx="3"/><rect class="i" x="859" y="330" width="20" height="10"/><rect class="i" x="859" y="341" width="20" height="9"/><rect class="i" x="859" y="351" width="20" height="10"/><circle class="s" cx="859" cy="342" r="2"/><circle class="s" cx="879" cy="342" r="2"/><circle class="s" cx="859" cy="348" r="2"/><text x="869" y="337">PCAF</text><text x="869" y="347">Cyclin</text><text x="869" y="358">DP1*</text><text class="cl" x="869" y="365">E2F1/DP1*/PCAF</text></g>
<g id="n79"><rect class="n rd" x="913" y="277" width="32" height="40" rx="3"/><rect class="i" x="917" y="280" width="22" height="10"/><rect class="i" x="917" y="291" width="22" height="9"/><rect class="i" x="917" y="301" width="22" height="10"/><circle class="s" cx="917" cy="292" r="2"/><circle class="s" cx="939" cy="292" r="2"/><circle class="s" cx="917" cy="298" r="2"/><circle class="s" cx="917" cy="306" r="2"/><text x="928" y="287">PCAF</text><text x="928" y="297">Cyclin</text><text x="928" y="308">DP1*</text><text class="cl" x="929" y="315">E2F1/DP1*/PCAF</text></g>
<g id="n80"><rect class="n rd" x="946" y="298" width="30" height="30" rx="3"/><rect class="i" x="950" y="301" width="22" height="10"/><rect class="i" x="950" y="312" width="22" height="10"/><circle class="s" cx="950" cy="300" r="2"/><circle class="s" cx="972" cy="300" r="2"/><circle class="s" cx="950" cy="307" r="2"/><circle class="s" cx="950" cy="317" r="2"/><text x="961" y="308">Cyclin</text><text x="961" y="319">DP1*</text><text class="cl" x="961" y="327">E2F1/DP1*</text></g>
<g id="n81"><rect class="n rd" x="1023" y="228" width="52" height="30" rx="3"/><rect class="i" x="1027" y="241" width="22" height="10"/><rect class="i" x="1050" y="241" width="22" height="10"/><rect class="i" x="1040" y="231" width="24" height="9"/><circle class="s" cx="1040" cy="230" r="2"/><circle class="s" cx="1064" cy="230" r="2"/><circle class="s" cx="1050" cy="246" r="2"/><text x="1038" y="248">TOPBP1</text><text x="1061" y="248">DP1*</text><text x="1052" y="238">Cyclin</text><text class="cl" x="1049" y="256">E2F1/DP1*/TOPBP1</text></g>
<g id="n82"><rect class="n rd" x="991" y="265" width="30" height="30" rx="3"/><rect class="i" x="995" y="268" width="22" height="10"/><rect class="i" x="995" y="279" width="22" height="10"/><circle class="s" cx="995" cy="267" r="2"/><circle class="s" cx="1017" cy="267" r="2"/><circle class="s" cx="995" cy="274" r="2"/><circle class="s" cx="995" cy="284" r="2"/><text x="1006" y="275">Cyclin</text><text x="1006" y="286">DP1*</text><text class="cl" x="1006" y="294">E2F1/DP1*</text></g>
<g id="n83"><rect class="n w" x="1032" y="286" width="22" height="10" rx="2"/><text x="1043" y="293">TOPBP1</text></g>
<g id="n84"><rect class="n rd" x="1140" y="147" width="30" height="28" rx="3"/><rect class="i" x="1144" y="150" width="22" height="9"/><rect class="i" x="1144" y="160" width="22" height="8"/><circle class="s" cx="1144" cy="165" r="2"/><circle class="s" cx="1166" cy="168" r="2"/><text x="1155" y="156">p14ARF*</text><text x="1155" y="166">Cyclin</text><text class="cl" x="1155" y="173">E2F1/p14ARF</text></g>
<g id="n85"><rect class="n pu" x="1132" y="192" width="28" height="30" rx="3"/><rect class="i" x="1135" y="195" width="22" height="9"/><rect class="i" x="1135" y="205" width="22" height="9"/><circle class="s" cx="1136" cy="210" r="2"/><text x="1146" y="201">p14ARF*</text><text x="1146" y="211">DP1*</text><text class="cl" x="1146" y="219">p14ARF*/DP1*</text></g>
<g id="n86"><rect class="n tl" x="1142" y="232" width="28" height="30" rx="3"/><rect class="i" x="1145" y="235" width="22" height="9"/><rect class="i" x="1145" y="245" width="22" height="9"/><circle class="s" cx="1146" cy="245" r="2"/><text x="1156" y="241">p14ARF*</text><text x="1156" y="251">MDM2</text><text class="cl" x="1156" y="259" fill="#cde">p14ARF*/MDM2</text></g>
<g id="n87"><rect class="n tl" x="1103" y="218" width="24" height="12" rx="2"/><text x="1115" y="226" fill="#dde">p14ARF*</text></g>
<g id="n88"><rect class="n rd" x="1214" y="158" width="30" height="31" rx="3"/><rect class="i" x="1218" y="161" width="22" height="10"/><rect class="i" x="1218" y="172" width="22" height="9"/><circle class="s" cx="1218" cy="177" r="2"/><circle class="s" cx="1240" cy="180" r="2"/><text x="1229" y="168">p14ARF*</text><text x="1229" y="178">Cyclin</text><text class="cl" x="1229" y="187">E2F1/p14ARF</text></g>
<g id="n89"><rect class="n pu" x="1214" y="192" width="30" height="30" rx="3"/><rect class="i" x="1218" y="195" width="22" height="9"/><rect class="i" x="1218" y="205" width="22" height="10"/><circle class="s" cx="1218" cy="210" r="2"/><text x="1229" y="201">p14ARF*</text><text x="1229" y="212">DP1*</text><text class="cl" x="1229" y="220">p14ARF*/DP1*</text></g>
<g id="n90"><rect class="n tl" x="1215" y="225" width="28" height="30" rx="3"/><rect class="i" x="1218" y="228" width="22" height="9"/><rect class="i" x="1218" y="238" width="22" height="9"/><circle class="s" cx="1219" cy="238" r="2"/><text x="1229" y="234">p14ARF*</text><text x="1229" y="244">MDM2</text><text class="cl" x="1229" y="252" fill="#cde">p14ARF*/MDM2</text></g>
<g id="n91"><rect class="n w" x="1070" y="208" width="22" height="12" rx="2"/><circle class="s" cx="1071" cy="209" r="2"/><text x="1081" y="216">MDM2</text></g>
<g id="n92"><rect class="n w" x="1104" y="260" width="22" height="12" rx="2"/><circle class="s" cx="1105" cy="261" r="2"/><text x="1115" y="268">MDM2</text></g>
<g id="n93"><rect class="n w" x="1350" y="266" width="22" height="12" rx="2"/><circle class="s" cx="1351" cy="267" r="2"/><text x="1361" y="274">MDM2</text></g>
<g id="n94"><rect class="n w" x="446" y="376" width="22" height="10" rx="2"/><text x="457" y="383">HP1gamma*</text></g>
<g id="n95"><rect class="n w" x="472" y="424" width="22" height="10" rx="2"/><text x="483" y="431">AKT1</text></g>
<g id="n96"><rect class="n pb" x="694" y="351" width="78" height="22" rx="3"/><rect class="i" x="698" y="354" width="24" height="12"/><rect class="i" x="722" y="354" width="26" height="12"/><rect class="i" x="744" y="356" width="24" height="9"/><circle class="s" cx="697" cy="354" r="2"/><circle class="s" cx="722" cy="354" r="2"/><circle class="s" cx="745" cy="360" r="2"/><text x="710" y="362">CDK2</text><text x="733" y="362">cyclin A2*</text><text x="757" y="362">p130*</text><text class="cl" x="733" y="371">cyclin A2/CDK2/p130</text></g>
<g id="n97"><rect class="n pb" x="775" y="357" width="78" height="22" rx="3"/><rect class="i" x="779" y="360" width="24" height="12"/><rect class="i" x="803" y="360" width="24" height="12"/><rect class="i" x="827" y="361" width="22" height="10"/><circle class="s" cx="778" cy="360" r="2"/><circle class="s" cx="803" cy="370" r="2"/><text x="791" y="368">CDK2</text><text x="815" y="368">cyclin A2*</text><text x="838" y="368">p107*</text><text class="cl" x="814" y="377">cyclin A2/CDK2/p107</text></g>
<g id="n98"><rect class="n pb" x="868" y="372" width="50" height="22" rx="3"/><rect class="i" x="872" y="375" width="22" height="12"/><rect class="i" x="894" y="376" width="20" height="10"/><circle class="s" cx="871" cy="375" r="2"/><circle class="s" cx="893" cy="387" r="2"/><text x="883" y="383">CDK2</text><text x="904" y="383">cyclin A2*</text><text class="cl" x="893" y="392">cyclin A2*/CDK2</text></g>
<g id="n99"><rect class="n pb" x="745" y="385" width="50" height="22" rx="3"/><rect class="i" x="749" y="388" width="22" height="12"/><rect class="i" x="771" y="389" width="20" height="10"/><circle class="s" cx="748" cy="388" r="2"/><circle class="s" cx="771" cy="388" r="2"/><circle class="s" cx="771" cy="400" r="2"/><text x="760" y="396">CDK2</text><text x="781" y="396">cyclin A2*</text><text class="cl" x="770" y="405">cyclin A2*/CDK2</text></g>
<g id="n100"><rect class="n pb" x="670" y="403" width="52" height="21" rx="3"/><rect class="i" x="674" y="406" width="22" height="11"/><rect class="i" x="696" y="407" width="22" height="10"/><circle class="s" cx="673" cy="406" r="2"/><circle class="s" cx="696" cy="406" r="2"/><text x="685" y="413">CDK2</text><text x="707" y="413">cyclin E1*</text><text class="cl" x="696" y="422">cyclin E1*/CDK2</text></g>
<g id="n101"><rect class="n pb" x="846" y="401" width="52" height="22" rx="3"/><rect class="i" x="850" y="404" width="22" height="12"/><rect class="i" x="872" y="405" width="22" height="10"/><circle class="s" cx="849" cy="404" r="2"/><circle class="s" cx="872" cy="404" r="2"/><circle class="s" cx="872" cy="416" r="2"/><text x="861" y="412">CDK2</text><text x="883" y="412">cyclin A2*</text><text class="cl" x="872" y="421">cyclin A2/CDK2</text></g>
<g id="n102"><rect class="n w" x="980" y="371" width="20" height="10" rx="2"/><text x="990" y="378">CDKN3</text></g>
<g id="n103"><rect class="n w" x="1016" y="385" width="22" height="10" rx="2"/><text x="1027" y="392">cyclin A2*</text></g>
<g id="n104"><rect class="n pb" x="952" y="398" width="24" height="12" rx="2"/><circle class="s" cx="953" cy="399" r="2"/><circle class="s" cx="975" cy="399" r="2"/><circle class="s" cx="975" cy="410" r="2"/><text x="964" y="406">CDK2</text></g>
<g id="n105"><rect class="n pb" x="1003" y="398" width="22" height="13" rx="2"/><circle class="s" cx="1004" cy="399" r="2"/><circle class="s" cx="1024" cy="399" r="2"/><circle class="s" cx="1024" cy="410" r="2"/><text x="1014" y="406">CDK2</text></g>
<g id="n106"><rect class="n w" x="916" y="431" width="24" height="10" rx="2"/><circle class="s" cx="938" cy="431" r="2"/><text x="928" y="438">cyclin E1*</text></g>
<g id="n107"><rect class="n w" x="1022" y="440" width="24" height="11" rx="2"/><circle class="s" cx="1044" cy="440" r="2"/><text x="1034" y="447">cyclin A2*</text></g>
<g id="n108"><rect class="n pb" x="879" y="447" width="52" height="22" rx="3"/><rect class="i" x="883" y="450" width="22" height="12"/><rect class="i" x="905" y="451" width="22" height="10"/><circle class="s" cx="882" cy="450" r="2"/><circle class="s" cx="905" cy="450" r="2"/><circle class="s" cx="927" cy="450" r="2"/><text x="894" y="458">CDK2</text><text x="916" y="458">cyclin E1*</text><text class="cl" x="905" y="467">cyclin E1*/CDK2</text></g>
<g id="n109"><rect class="n pb" x="958" y="466" width="52" height="23" rx="3"/><rect class="i" x="962" y="469" width="22" height="12"/><rect class="i" x="984" y="470" width="22" height="10"/><circle class="s" cx="961" cy="469" r="2"/><circle class="s" cx="1006" cy="469" r="2"/><circle class="s" cx="984" cy="481" r="2"/><text x="973" y="477">CDK2</text><text x="995" y="477">cyclin E1*</text><text class="cl" x="984" y="487">CDK2/cyclin E1*</text></g>
<g id="n110"><rect class="n pb" x="750" y="461" width="52" height="35" rx="3"/><rect class="i" x="762" y="464" width="22" height="10"/><rect class="i" x="754" y="475" width="22" height="12"/><rect class="i" x="776" y="476" width="22" height="10"/><circle class="s" cx="754" cy="476" r="2"/><circle class="s" cx="798" cy="476" r="2"/><circle class="s" cx="762" cy="465" r="2"/><text x="773" y="471">CDKN1B*</text><text x="765" y="483">CDK2</text><text x="787" y="483">cyclin E1*</text><text class="cl" x="776" y="493">CDK2/cyclin E1*/CDKN1B</text></g>
<g id="n111"><rect class="n or" x="703" y="458" width="34" height="45" rx="3"/><rect class="i" x="709" y="463" width="22" height="10"/><rect class="i" x="709" y="474" width="22" height="10"/><rect class="i" x="709" y="485" width="22" height="10"/><circle class="s" cx="711" cy="464" r="2"/><text x="720" y="470">CDK7</text><text x="720" y="481">cyclin H*</text><text x="720" y="492">MNAT1</text><text class="cl" x="720" y="500">CDK7/cyclin H*/MNAT1</text></g>
<g id="n112"><rect class="n ol" x="875" y="483" width="24" height="12" rx="2"/><circle class="s" cx="876" cy="484" r="2"/><circle class="s" cx="898" cy="484" r="2"/><circle class="s" cx="898" cy="494" r="2"/><text x="887" y="491">CDK2</text></g>
<g id="n113"><rect class="n pb" x="853" y="498" width="50" height="33" rx="3"/><rect class="i" x="866" y="501" width="20" height="12"/><rect class="i" x="857" y="514" width="22" height="10"/><rect class="i" x="880" y="513" width="20" height="10"/><circle class="s" cx="856" cy="514" r="2"/><circle class="s" cx="866" cy="502" r="2"/><circle class="s" cx="900" cy="513" r="2"/><text x="876" y="509">CDKN1A*</text><text x="868" y="521">CDK2</text><text x="890" y="520">cyclin A2*</text><text class="cl" x="878" y="529">CDK2/cyclin A2*/CDKN1A</text></g>
<g id="n114"><rect class="n w" x="980" y="496" width="20" height="10" rx="2"/><circle class="s" cx="981" cy="499" r="2"/><text x="991" y="503">CDK1*</text></g>
<g id="n115"><rect class="n w" x="980" y="529" width="22" height="10" rx="2"/><circle class="s" cx="981" cy="534" r="2"/><text x="992" y="536">CDK1*</text></g>
<g id="n116"><rect class="n w" x="1027" y="512" width="22" height="10" rx="2"/><text x="1038" y="519">CDC14A</text></g>
<g id="n117"><rect class="n ol" x="764" y="515" width="24" height="12" rx="2"/><circle class="s" cx="765" cy="516" r="2"/><circle class="s" cx="787" cy="516" r="2"/><circle class="s" cx="787" cy="526" r="2"/><text x="776" y="523">CDK2</text></g>
<g id="n118"><rect class="n w" x="784" y="548" width="24" height="10" rx="2"/><text x="796" y="555">cyclin B1*</text></g>
<g id="n119"><rect class="n p5" x="1031" y="312" width="22" height="11" rx="2"/><text x="1042" y="319" fill="#eee">p53</text></g>
<g id="n120"><rect class="n p5" x="1083" y="312" width="24" height="12" rx="2"/><text x="1095" y="320" fill="#eee">p53</text></g>
<g id="n121"><rect class="n dp" x="1068" y="364" width="22" height="11" rx="2"/><circle class="s" cx="1069" cy="369" r="2"/><text x="1079" y="371" fill="#eee">NBS1</text></g>
<g id="n122"><rect class="n dp" x="1126" y="364" width="22" height="11" rx="2"/><circle class="s" cx="1127" cy="369" r="2"/><text x="1137" y="371" fill="#eee">NBS1</text></g>
<g id="n123"><rect class="n p5" x="1170" y="373" width="28" height="32" rx="3"/><rect class="i" x="1174" y="376" width="20" height="10"/><rect class="i" x="1174" y="388" width="20" height="10"/><circle class="s" cx="1174" cy="378" r="2"/><circle class="s" cx="1174" cy="394" r="2"/><text x="1184" y="384">E2F1</text><text x="1184" y="395">NBS1</text><text class="cl" x="1184" y="403" fill="#eee">E2F1/NBS1</text></g>
<g id="n124"><rect class="n mr" x="1170" y="304" width="28" height="32" rx="3"/><rect class="i" x="1174" y="307" width="20" height="10"/><rect class="i" x="1174" y="318" width="20" height="10"/><circle class="s" cx="1184" cy="306" r="2"/><circle class="s" cx="1174" cy="318" r="2"/><text x="1184" y="314">p53</text><text x="1184" y="325">MDM2</text><text class="cl" x="1184" y="334" fill="#eee">p53/MDM2</text></g>
<g id="n125"><rect class="n mr" x="1278" y="315" width="22" height="12" rx="2"/><circle class="s" cx="1288" cy="315" r="2"/><circle class="s" cx="1278" cy="326" r="2"/><text x="1289" y="323" fill="#eee">p53</text></g>
<g id="n126"><rect class="n mr" x="1278" y="371" width="22" height="12" rx="2"/><circle class="s" cx="1288" cy="371" r="2"/><circle class="s" cx="1278" cy="381" r="2"/><text x="1289" y="379" fill="#eee">p53</text></g>
<g id="n127"><rect class="n mr" x="1278" y="412" width="22" height="12" rx="2"/><circle class="s" cx="1288" cy="412" r="2"/><circle class="s" cx="1278" cy="422" r="2"/><text x="1289" y="420" fill="#eee">p53</text></g>
<g id="n128"><rect class="n mr" x="1328" y="300" width="28" height="32" rx="3"/><rect class="i" x="1332" y="303" width="20" height="10"/><rect class="i" x="1332" y="314" width="20" height="10"/><circle class="s" cx="1342" cy="304" r="2"/><circle class="s" cx="1332" cy="315" r="2"/><text x="1342" y="310">p53</text><text x="1342" y="321">MDM2</text><text class="cl" x="1342" y="330" fill="#eee">p53/MDM2</text></g>
<g id="n129"><rect class="n mr" x="1351" y="349" width="22" height="12" rx="2"/><circle class="s" cx="1361" cy="349" r="2"/><circle class="s" cx="1352" cy="360" r="2"/><text x="1362" y="357" fill="#eee">p53</text></g>
<g id="n130"><rect class="n c2" x="1115" y="418" width="22" height="11" rx="2"/><circle class="s" cx="1137" cy="417" r="2"/><text x="1126" y="425">CHEK2</text></g>
<g id="n131"><rect class="n c2" x="1207" y="418" width="22" height="11" rx="2"/><circle class="s" cx="1229" cy="417" r="2"/><text x="1218" y="425">CHEK2</text></g>
<g id="n132"><rect class="n w" x="1245" y="436" width="22" height="11" rx="2"/><text x="1256" y="443">ATR</text></g>
<g id="n133"><rect class="n c1" x="1116" y="484" width="22" height="11" rx="2"/><circle class="s" cx="1117" cy="484" r="2"/><circle class="s" cx="1137" cy="484" r="2"/><text x="1127" y="491">CHEK1</text></g>
<g id="n134"><rect class="n c1" x="1229" y="484" width="22" height="11" rx="2"/><circle class="s" cx="1230" cy="484" r="2"/><circle class="s" cx="1250" cy="484" r="2"/><text x="1240" y="491">CHEK1</text></g>
<g id="n135"><rect class="n br" x="1123" y="509" width="22" height="11" rx="2"/><text x="1134" y="516" fill="#eee">APC</text></g>
<g id="n136"><rect class="n br" x="1038" y="476" width="28" height="30" rx="3"/><rect class="i" x="1042" y="479" width="20" height="10"/><rect class="i" x="1042" y="490" width="20" height="9"/><circle class="s" cx="1042" cy="495" r="2"/><text x="1052" y="486">APC</text><text x="1052" y="496">CDH1*</text><text class="cl" x="1052" y="504">APC/CDH1</text></g>
<g id="n137"><rect class="n br" x="1082" y="527" width="28" height="30" rx="3"/><rect class="i" x="1086" y="530" width="20" height="10"/><rect class="i" x="1086" y="541" width="20" height="9"/><circle class="s" cx="1086" cy="546" r="2"/><text x="1096" y="537">APC</text><text x="1096" y="547">CDC20</text><text class="cl" x="1096" y="555">APC/CDC20</text></g>
<g id="n138"><rect class="n cc" x="1085" y="586" width="22" height="11" rx="2"/><circle class="s" cx="1085" cy="591" r="2"/><text x="1096" y="593">CDC20</text></g>
<g id="n139"><rect class="n cc" x="1016" y="560" width="22" height="11" rx="2"/><circle class="s" cx="1016" cy="565" r="2"/><text x="1027" y="567">CDC20</text></g>
<g id="n140"><rect class="n lg" x="560" y="427" width="52" height="28" rx="3"/><rect class="i" x="564" y="430" width="22" height="10"/><rect class="i" x="586" y="430" width="22" height="10"/><rect class="i" x="577" y="441" width="22" height="9"/><circle class="s" cx="563" cy="430" r="2"/><circle class="s" cx="586" cy="430" r="2"/><circle class="s" cx="563" cy="438" r="2"/><circle class="s" cx="577" cy="446" r="2"/><text x="575" y="437">CDK4</text><text x="597" y="437">cyclin D1</text><text x="588" y="447">CDKN1B*</text><text class="cl" x="586" y="454">cyclin D1*/CDK4/CDKN1B</text></g>
<g id="n141"><rect class="n dg" x="628" y="444" width="52" height="30" rx="3"/><rect class="i" x="632" y="447" width="22" height="10"/><rect class="i" x="654" y="447" width="22" height="10"/><rect class="i" x="645" y="458" width="22" height="9"/><circle class="s" cx="654" cy="447" r="2"/><circle class="s" cx="645" cy="462" r="2"/><text x="643" y="454">CDK6</text><text x="665" y="454">cyclin D1*</text><text x="656" y="464">CDKN1B*</text><text class="cl" x="654" y="472" fill="#dfd">cyclin D1*/CDK6/CDKN1B</text></g>
<g id="n142"><rect class="n lg" x="355" y="462" width="52" height="32" rx="3"/><rect class="i" x="359" y="465" width="22" height="10"/><rect class="i" x="381" y="465" width="22" height="10"/><rect class="i" x="372" y="476" width="22" height="10"/><circle class="s" cx="358" cy="465" r="2"/><circle class="s" cx="381" cy="465" r="2"/><circle class="s" cx="358" cy="473" r="2"/><circle class="s" cx="395" cy="476" r="2"/><text x="370" y="472">CDK4</text><text x="392" y="472">cyclin D1*</text><text x="383" y="483">CDKN1A*</text><text class="cl" x="381" y="492">cyclin D1*/CDK4/CDKN1A</text></g>
<g id="n143"><rect class="n dg" x="410" y="507" width="52" height="32" rx="3"/><rect class="i" x="414" y="510" width="22" height="10"/><rect class="i" x="436" y="510" width="22" height="10"/><rect class="i" x="427" y="521" width="22" height="10"/><circle class="s" cx="436" cy="510" r="2"/><circle class="s" cx="427" cy="526" r="2"/><text x="425" y="517">CDK6</text><text x="447" y="517">cyclin D1*</text><text x="438" y="528">CDKN1A*</text><text class="cl" x="436" y="537" fill="#dfd">CDK6/cyclin D1*/CDKN1A</text></g>
<g id="n144"><rect class="n lg" x="486" y="494" width="52" height="32" rx="3"/><rect class="i" x="490" y="497" width="22" height="10"/><rect class="i" x="512" y="497" width="22" height="10"/><rect class="i" x="503" y="508" width="22" height="10"/><circle class="s" cx="489" cy="497" r="2"/><circle class="s" cx="512" cy="497" r="2"/><circle class="s" cx="489" cy="505" r="2"/><circle class="s" cx="503" cy="513" r="2"/><text x="501" y="504">CDK4</text><text x="523" y="504">cyclin D1*</text><text x="514" y="515">CDKN1B*</text><text class="cl" x="512" y="524">cyclin D1*/CDK4/CDKN1B</text></g>
<g id="n145"><rect class="n dg" x="557" y="493" width="52" height="32" rx="3"/><rect class="i" x="561" y="496" width="22" height="10"/><rect class="i" x="583" y="496" width="22" height="10"/><rect class="i" x="574" y="507" width="22" height="10"/><circle class="s" cx="583" cy="496" r="2"/><circle class="s" cx="574" cy="512" r="2"/><text x="572" y="503">CDK6</text><text x="594" y="503">cyclin D1*</text><text x="585" y="514">CDKN1B*</text><text class="cl" x="583" y="523" fill="#dfd">cyclin D1*/CDK6/CDKN1B</text></g>
<g id="n146"><rect class="n pb" x="262" y="449" width="52" height="32" rx="3"/><rect class="i" x="266" y="452" width="22" height="10"/><rect class="i" x="288" y="452" width="22" height="10"/><rect class="i" x="279" y="463" width="22" height="10"/><circle class="s" cx="265" cy="452" r="2"/><circle class="s" cx="288" cy="452" r="2"/><circle class="s" cx="279" cy="468" r="2"/><text x="277" y="459">CDK2</text><text x="299" y="459">cyclin A2*</text><text x="290" y="470">CDKN1A*</text><text class="cl" x="288" y="479">cyclin A2*/CDK2/CDKN1A</text></g>
<g id="n147"><rect class="n pb" x="204" y="465" width="52" height="32" rx="3"/><rect class="i" x="208" y="468" width="22" height="10"/><rect class="i" x="230" y="468" width="22" height="10"/><rect class="i" x="221" y="479" width="22" height="10"/><circle class="s" cx="207" cy="468" r="2"/><circle class="s" cx="230" cy="468" r="2"/><circle class="s" cx="252" cy="468" r="2"/><circle class="s" cx="230" cy="479" r="2"/><text x="219" y="475">CDK2</text><text x="241" y="475">cyclin E1*</text><text x="232" y="486">CDKN1A*</text><text class="cl" x="230" y="495">cyclin E1*/CDK2/CDKN1A</text></g>
<g id="n148"><rect class="n dg" x="223" y="503" width="25" height="30" rx="3"/><rect class="i" x="226" y="506" width="19" height="10"/><rect class="i" x="226" y="517" width="19" height="9"/><circle class="s" cx="226" cy="518" r="2"/><circle class="s" cx="246" cy="518" r="2"/><text x="235" y="513">PCNA</text><text x="235" y="524">CDKN1A*</text><text class="cl" x="235" y="531" fill="#dfd">PCNA/CDKN1A</text></g>
<g id="n149"><rect class="n dg" x="245" y="548" width="22" height="11" rx="2"/><text x="256" y="555" fill="#dfd">PCNA</text></g>
<g id="n150"><rect class="n ol" x="214" y="565" width="52" height="33" rx="3"/><rect class="i" x="218" y="568" width="22" height="10"/><rect class="i" x="240" y="568" width="22" height="10"/><rect class="i" x="231" y="579" width="22" height="10"/><circle class="s" cx="217" cy="568" r="2"/><circle class="s" cx="240" cy="568" r="2"/><circle class="s" cx="240" cy="578" r="2"/><text x="229" y="575">CDC2</text><text x="251" y="575">cyclin B1*</text><text x="242" y="586">CDKN1A*</text><text class="cl" x="240" y="596">cyclin B1*/CDC2/CDKN1A</text></g>
<g id="n151"><rect class="n nv" x="297" y="511" width="24" height="12" rx="2"/><circle class="s" cx="298" cy="512" r="2"/><circle class="s" cx="320" cy="512" r="2"/><text x="309" y="519" fill="#ccd">CDKN1A*</text></g>
<g id="n152"><rect class="n nv" x="306" y="561" width="24" height="12" rx="2"/><circle class="s" cx="307" cy="562" r="2"/><circle class="s" cx="329" cy="562" r="2"/><text x="318" y="569" fill="#ccd">CDKN1A*</text></g>
<g id="n153"><rect class="n yg" x="629" y="507" width="24" height="12" rx="2"/><circle class="s" cx="630" cy="508" r="2"/><circle class="s" cx="630" cy="518" r="2"/><text x="641" y="515">CDKN1B*</text></g>
<g id="n154"><rect class="n yg" x="545" y="531" width="22" height="12" rx="2"/><circle class="s" cx="546" cy="532" r="2"/><text x="556" y="539">CDKN1B*</text></g>
<g id="n155"><rect class="n yg" x="643" y="557" width="24" height="12" rx="2"/><circle class="s" cx="644" cy="558" r="2"/><text x="655" y="565">CDKN1B*</text></g>
<g id="n156"><rect class="n yg" x="546" y="673" width="24" height="12" rx="2"/><circle class="s" cx="547" cy="674" r="2"/><circle class="s" cx="547" cy="684" r="2"/><text x="558" y="681">CDKN1B*</text></g>
<g id="n157"><rect class="n ol" x="657" y="528" width="52" height="22" rx="3"/><rect class="i" x="661" y="531" width="22" height="12"/><rect class="i" x="683" y="532" width="22" height="10"/><circle class="s" cx="660" cy="531" r="2"/><circle class="s" cx="683" cy="531" r="2"/><text x="672" y="539">CDC2</text><text x="694" y="539">cyclin B1*</text><text class="cl" x="683" y="548">cyclin B1*/CDC2</text></g>
<g id="n158"><rect class="n w" x="632" y="582" width="20" height="10" rx="2"/><text x="642" y="589">MNAT1</text></g>
<g id="n159"><rect class="n cd" x="703" y="572" width="22" height="12" rx="2"/><circle class="s" cx="704" cy="573" r="2"/><circle class="s" cx="724" cy="573" r="2"/><text x="714" y="580" fill="#dfd">CDC25C</text></g>
<g id="n160"><rect class="n ol" x="750" y="568" width="50" height="22" rx="3"/><rect class="i" x="754" y="571" width="22" height="12"/><rect class="i" x="776" y="572" width="20" height="10"/><circle class="s" cx="753" cy="571" r="2"/><circle class="s" cx="776" cy="571" r="2"/><text x="765" y="579">CDC2</text><text x="786" y="579">cyclin B1*</text><text class="cl" x="775" y="588">cyclin B1*/CDC2</text></g>
<g id="n161"><rect class="n ol" x="1000" y="573" width="50" height="22" rx="3"/><rect class="i" x="1004" y="576" width="22" height="12"/><rect class="i" x="1026" y="577" width="20" height="10"/><circle class="s" cx="1003" cy="576" r="2"/><circle class="s" cx="1026" cy="576" r="2"/><text x="1015" y="584">CDC2</text><text x="1036" y="584">cyclin B1*</text><text class="cl" x="1025" y="593">cyclin B1*/CDC2</text></g>
<g id="n162"><rect class="n mg" x="399" y="584" width="22" height="11" rx="2"/><circle class="s" cx="399" cy="589" r="2"/><text x="410" y="591">GSK3B</text></g>
<g id="n163"><rect class="n mg" x="451" y="580" width="22" height="11" rx="2"/><text x="462" y="587">GSK3B</text></g>
<g id="n164"><rect class="n lg" x="504" y="596" width="52" height="22" rx="3"/><rect class="i" x="508" y="599" width="22" height="12"/><rect class="i" x="530" y="600" width="22" height="10"/><circle class="s" cx="507" cy="599" r="2"/><circle class="s" cx="530" cy="599" r="2"/><circle class="s" cx="507" cy="608" r="2"/><text x="519" y="607">CDK4</text><text x="541" y="607">cyclin D1*</text><text class="cl" x="530" y="616">cyclin D1*/CDK4</text></g>
<g id="n165"><rect class="n lg" x="320" y="601" width="52" height="22" rx="3"/><rect class="i" x="324" y="604" width="22" height="12"/><rect class="i" x="346" y="605" width="22" height="10"/><circle class="s" cx="323" cy="604" r="2"/><circle class="s" cx="346" cy="604" r="2"/><circle class="s" cx="323" cy="613" r="2"/><text x="335" y="612">CDK4</text><text x="357" y="612">cyclin D1*</text><text class="cl" x="346" y="621">CDK4/cyclin D1*</text></g>
<g id="n166"><rect class="n dg" x="572" y="626" width="50" height="22" rx="3"/><rect class="i" x="576" y="629" width="22" height="12"/><rect class="i" x="598" y="630" width="20" height="10"/><circle class="s" cx="598" cy="629" r="2"/><text x="587" y="637">CDK6</text><text x="608" y="637">cyclin D1*</text><text class="cl" x="597" y="646" fill="#dfd">CDK6/cyclin D1*</text></g>
<g id="n167"><rect class="n dg" x="394" y="640" width="50" height="22" rx="3"/><rect class="i" x="398" y="643" width="22" height="12"/><rect class="i" x="420" y="644" width="20" height="10"/><circle class="s" cx="420" cy="643" r="2"/><text x="409" y="651">CDK6</text><text x="430" y="651">cyclin D1*</text><text class="cl" x="419" y="660" fill="#dfd">CDK6/cyclin D1*</text></g>
<g id="n168"><rect class="n w" x="601" y="601" width="22" height="10" rx="2"/><text x="612" y="608">cyclin D1*</text></g>
<g id="n169"><rect class="n or" x="631" y="609" width="22" height="12" rx="2"/><circle class="s" cx="632" cy="610" r="2"/><text x="642" y="617">CDK7</text></g>
<g id="n170"><rect class="n nv" x="260" y="642" width="24" height="12" rx="2"/><circle class="s" cx="261" cy="643" r="2"/><circle class="s" cx="283" cy="643" r="2"/><text x="272" y="650" fill="#ccd">CDKN1A*</text></g>
<g id="n171"><rect class="n nv" x="260" y="698" width="24" height="12" rx="2"/><circle class="s" cx="261" cy="699" r="2"/><circle class="s" cx="283" cy="699" r="2"/><text x="272" y="706" fill="#ccd">CDKN1A*</text></g>
<g id="n172"><rect class="n w" x="219" y="625" width="23" height="10" rx="2"/><text x="230" y="632">p57KIP2*</text></g>
<g id="n173"><rect class="n w" x="219" y="637" width="23" height="10" rx="2"/><text x="230" y="644">p18INK4C*</text></g>
<g id="n174"><rect class="n w" x="219" y="650" width="23" height="10" rx="2"/><text x="230" y="657">p19INK4d*</text></g>
<g id="n175"><rect class="n ol" x="657" y="646" width="24" height="12" rx="2"/><circle class="s" cx="658" cy="647" r="2"/><text x="669" y="654" fill="#eee">CDC2</text></g>
<g id="n176"><rect class="n wb" x="880" y="623" width="22" height="11" rx="2"/><circle class="s" cx="880" cy="628" r="2"/><text x="891" y="630" fill="#eee">WEE1</text></g>
<g id="n177"><rect class="n wb" x="916" y="587" width="22" height="11" rx="2"/><text x="927" y="594" fill="#eee">WEE1</text></g>
<g id="n178"><rect class="n ol" x="812" y="628" width="50" height="22" rx="3"/><rect class="i" x="816" y="631" width="22" height="12"/><rect class="i" x="838" y="632" width="20" height="10"/><circle class="s" cx="815" cy="631" r="2"/><circle class="s" cx="838" cy="631" r="2"/><circle class="s" cx="838" cy="642" r="2"/><text x="827" y="639">CDC2</text><text x="848" y="639">cyclin B1*</text><text class="cl" x="837" y="648">cyclin B1*/CDC2</text></g>
<g id="n179"><rect class="n ol" x="943" y="633" width="50" height="22" rx="3"/><rect class="i" x="947" y="636" width="22" height="12"/><rect class="i" x="969" y="637" width="20" height="10"/><circle class="s" cx="946" cy="636" r="2"/><circle class="s" cx="969" cy="636" r="2"/><circle class="s" cx="969" cy="647" r="2"/><text x="958" y="644">CDC2</text><text x="979" y="644">cyclin B1*</text><text class="cl" x="968" y="653">cyclin B1*/CDC2</text></g>
<g id="n180"><rect class="n or" x="712" y="617" width="36" height="42" rx="3"/><rect class="i" x="718" y="621" width="22" height="10"/><rect class="i" x="718" y="632" width="22" height="10"/><rect class="i" x="718" y="643" width="22" height="9"/><circle class="s" cx="720" cy="622" r="2"/><text x="729" y="628">CDK7</text><text x="729" y="639">cyclin H*</text><text x="729" y="650">MNAT1</text><text class="cl" x="730" y="657">CDK7/cyclin H*/MNAT1</text></g>
<g id="n181"><rect class="n lg" x="318" y="695" width="52" height="22" rx="3"/><rect class="i" x="322" y="698" width="22" height="12"/><rect class="i" x="344" y="699" width="22" height="10"/><circle class="s" cx="321" cy="698" r="2"/><circle class="s" cx="344" cy="698" r="2"/><circle class="s" cx="321" cy="707" r="2"/><text x="333" y="706">CDK4</text><text x="355" y="706">cyclin D1*</text><text class="cl" x="344" y="715">cyclin D1*/CDK4</text></g>
<g id="n182"><rect class="n dg" x="394" y="698" width="50" height="22" rx="3"/><rect class="i" x="398" y="701" width="22" height="12"/><rect class="i" x="420" y="702" width="20" height="10"/><circle class="s" cx="420" cy="701" r="2"/><text x="409" y="709">CDK6</text><text x="430" y="709">cyclin D1*</text><text class="cl" x="419" y="718" fill="#dfd">CDK6/cyclin D1*</text></g>
<g id="n183"><rect class="n lg" x="501" y="697" width="52" height="22" rx="3"/><rect class="i" x="505" y="700" width="22" height="12"/><rect class="i" x="527" y="701" width="22" height="10"/><circle class="s" cx="504" cy="700" r="2"/><circle class="s" cx="527" cy="700" r="2"/><circle class="s" cx="504" cy="709" r="2"/><text x="516" y="708">CDK4</text><text x="538" y="708">cyclin D1*</text><text class="cl" x="527" y="717">cyclin D1*/CDK4</text></g>
<g id="n184"><rect class="n dg" x="571" y="697" width="50" height="22" rx="3"/><rect class="i" x="575" y="700" width="22" height="12"/><rect class="i" x="597" y="701" width="20" height="10"/><circle class="s" cx="597" cy="700" r="2"/><text x="586" y="708">CDK6</text><text x="607" y="708">cyclin D1*</text><text class="cl" x="596" y="717" fill="#dfd">CDK6/cyclin D1*</text></g>
<g id="n185"><rect class="n w" x="354" y="739" width="22" height="10" rx="2"/><circle class="s" cx="355" cy="740" r="2"/><text x="365" y="746">cyclin D1*</text></g>
<g id="n186"><rect class="n lg" x="449" y="726" width="26" height="30" rx="3"/><rect class="i" x="452" y="729" width="20" height="10"/><rect class="i" x="452" y="740" width="20" height="9"/><circle class="s" cx="452" cy="731" r="2"/><circle class="s" cx="452" cy="738" r="2"/><text x="462" y="736">CDK4</text><text x="462" y="747">p16INK4a*</text><text class="cl" x="462" y="754">CDK4/p16INK4a</text></g>
<g id="n187"><rect class="n dg" x="619" y="728" width="26" height="30" rx="3"/><rect class="i" x="622" y="731" width="20" height="10"/><rect class="i" x="622" y="742" width="20" height="9"/><text x="632" y="738">CDK6</text><text x="632" y="749">p16INK4a*</text><text class="cl" x="632" y="756" fill="#dfd">CDK6/p16INK4a</text></g>
<g id="n188"><rect class="n w" x="543" y="760" width="22" height="10" rx="2"/><circle class="s" cx="544" cy="761" r="2"/><text x="554" y="767">cyclin D1*</text></g>
<g id="n189"><rect class="n w" x="400" y="762" width="22" height="10" rx="2"/><text x="411" y="769">CDC37</text></g>
<g id="n190"><rect class="n hg" x="326" y="778" width="22" height="11" rx="2"/><text x="337" y="785">HSP90</text></g>
<g id="n191"><rect class="n hg" x="367" y="778" width="22" height="11" rx="2"/><text x="378" y="785">HSP90</text></g>
<g id="n192"><rect class="n lg" x="416" y="797" width="22" height="12" rx="2"/><circle class="s" cx="417" cy="798" r="2"/><circle class="s" cx="417" cy="808" r="2"/><text x="427" y="805">CDK4</text></g>
<g id="n193"><rect class="n lg" x="448" y="800" width="22" height="12" rx="2"/><circle class="s" cx="449" cy="801" r="2"/><circle class="s" cx="449" cy="811" r="2"/><text x="459" y="808">CDK4</text></g>
<g id="n194"><rect class="n dg" x="655" y="782" width="22" height="12" rx="2"/><circle class="s" cx="656" cy="783" r="2"/><text x="666" y="790" fill="#dfd">CDK6</text></g>
<g id="n195"><rect class="n lg" x="313" y="810" width="28" height="30" rx="3"/><rect class="i" x="316" y="813" width="22" height="10"/><rect class="i" x="316" y="824" width="22" height="10"/><circle class="s" cx="317" cy="814" r="2"/><circle class="s" cx="317" cy="822" r="2"/><text x="327" y="820">CDK4</text><text x="327" y="831">CDC37</text><text class="cl" x="327" y="838">CDK4/CDC37</text></g>
<g id="n196"><rect class="n w" x="543" y="796" width="22" height="10" rx="2"/><text x="554" y="803">SUPM01</text></g>
<g id="n197"><rect class="n w" x="522" y="823" width="24" height="10" rx="2"/><text x="534" y="830">p16INK4a*</text></g>
<g id="n198"><rect class="n w" x="523" y="845" width="24" height="10" rx="2"/><text x="535" y="852">p15INK4b*</text></g>
<g id="n199"><rect class="n lg" x="417" y="830" width="26" height="30" rx="3"/><rect class="i" x="420" y="833" width="20" height="10"/><rect class="i" x="420" y="844" width="20" height="9"/><circle class="s" cx="420" cy="834" r="2"/><circle class="s" cx="420" cy="841" r="2"/><text x="430" y="840">CDK4</text><text x="430" y="851">p15INK4b*</text><text class="cl" x="430" y="858">CDK4/CDKN2B</text></g>
<g id="n200"><rect class="n dg" x="638" y="832" width="26" height="30" rx="3"/><rect class="i" x="641" y="835" width="20" height="10"/><rect class="i" x="641" y="846" width="20" height="9"/><text x="651" y="842">CDK6</text><text x="651" y="853">p15INK4b*</text><text class="cl" x="651" y="860" fill="#dfd">CDK6/CDKN2B</text></g>
<g id="n201"><rect class="n lg" x="342" y="848" width="48" height="30" rx="3"/><rect class="i" x="345" y="851" width="18" height="10"/><rect class="i" x="345" y="862" width="18" height="10"/><rect class="i" x="365" y="855" width="21" height="11"/><circle class="s" cx="365" cy="856" r="2"/><circle class="s" cx="365" cy="864" r="2"/><text x="354" y="858">CDC37</text><text x="354" y="869">HSP90</text><text x="376" y="862">CDK4</text><text class="cl" x="366" y="876">CDC37/HSP90/CDK4</text></g>
<g id="n202"><rect class="n w" x="420" y="872" width="26" height="30" rx="3"/><rect class="i" x="423" y="875" width="20" height="10"/><rect class="i" x="423" y="886" width="20" height="10"/><text x="433" y="882">CDC37</text><text x="433" y="893">HSP90</text><text class="cl" x="433" y="900">CDC37/HSP90</text></g>
<g id="n203"><rect class="n cd" x="698" y="708" width="24" height="12" rx="2"/><circle class="s" cx="699" cy="709" r="2"/><circle class="s" cx="721" cy="709" r="2"/><text x="710" y="716" fill="#dfd">CDC25C</text></g>
<g id="n204"><rect class="n cd" x="726" y="685" width="24" height="12" rx="2"/><circle class="s" cx="727" cy="685" r="2"/><circle class="s" cx="749" cy="685" r="2"/><text x="738" y="693" fill="#dfd">CDC25C</text></g>
<g id="n205"><rect class="n ol" x="810" y="722" width="50" height="22" rx="3"/><rect class="i" x="814" y="725" width="22" height="12"/><rect class="i" x="836" y="726" width="20" height="10"/><circle class="s" cx="813" cy="725" r="2"/><circle class="s" cx="836" cy="736" r="2"/><text x="825" y="733">CDC2</text><text x="846" y="733">cyclin B1*</text><text class="cl" x="835" y="742">cyclin B1*/CDC2</text></g>
<g id="n206"><rect class="n ol" x="942" y="722" width="50" height="22" rx="3"/><rect class="i" x="946" y="725" width="22" height="12"/><rect class="i" x="968" y="726" width="20" height="10"/><circle class="s" cx="945" cy="725" r="2"/><circle class="s" cx="968" cy="725" r="2"/><text x="957" y="733">CDC2</text><text x="978" y="733">cyclin B1*</text><text class="cl" x="967" y="742">CDC25C/cyclin B1*</text></g>
<g id="n207"><rect class="n pk" x="870" y="785" width="22" height="11" rx="2"/><circle class="s" cx="870" cy="790" r="2"/><text x="881" y="792" fill="#dfd">PKMYT1</text></g>
<g id="n208"><rect class="n pk" x="937" y="785" width="22" height="11" rx="2"/><circle class="s" cx="937" cy="790" r="2"/><text x="948" y="792" fill="#dfd">PKMYT1</text></g>
<g id="n209"><rect class="n ol" x="762" y="812" width="50" height="22" rx="3"/><rect class="i" x="766" y="815" width="22" height="12"/><rect class="i" x="788" y="816" width="20" height="10"/><circle class="s" cx="765" cy="815" r="2"/><circle class="s" cx="788" cy="815" r="2"/><circle class="s" cx="788" cy="826" r="2"/><text x="777" y="823">CDC2</text><text x="798" y="823">cyclin B1*</text><text class="cl" x="787" y="832">CDC25C/cyclin B1*</text></g>
<g id="n210"><rect class="n ol" x="989" y="812" width="50" height="22" rx="3"/><rect class="i" x="993" y="815" width="22" height="12"/><rect class="i" x="1015" y="816" width="20" height="10"/><circle class="s" cx="992" cy="815" r="2"/><circle class="s" cx="1015" cy="815" r="2"/><circle class="s" cx="1015" cy="826" r="2"/><text x="1004" y="823">CDC2</text><text x="1025" y="823">cyclin B1*</text><text class="cl" x="1014" y="832">cyclin B1*/CDC2</text></g>
<g id="n211"><rect class="n w" x="757" y="858" width="22" height="10" rx="2"/><text x="768" y="865">cyclin B1*</text></g>
<g id="n212"><rect class="n ol" x="802" y="858" width="24" height="12" rx="2"/><circle class="s" cx="803" cy="858" r="2"/><circle class="s" cx="825" cy="858" r="2"/><circle class="s" cx="825" cy="869" r="2"/><text x="814" y="866" fill="#eee">CDC2</text></g>
</svg>
